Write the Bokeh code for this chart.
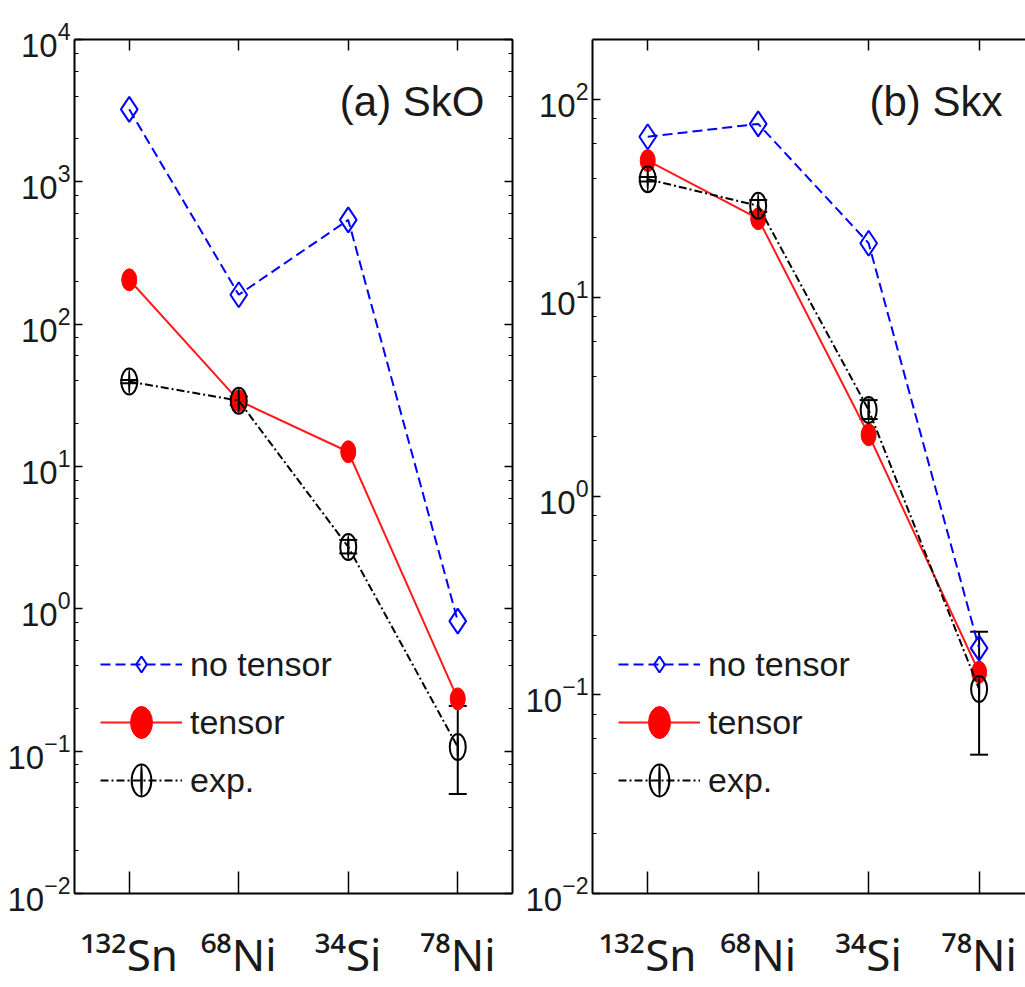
from bokeh.plotting import figure
from bokeh.layouts import row
from bokeh.models import (Range1d, LogAxis, LinearAxis, FixedTicker, LogTicker, Whisker, TeeHead,
                          ColumnDataSource, Legend, LegendItem, Label, CustomJSTickFormatter)
from bokeh.embed import file_html
from bokeh.resources import INLINE

# ---------------- data ----------------
x_pos = [1, 2, 3, 4]
nuclei_mass = ["132", "68", "34", "78"]
nuclei_elem = ["Sn", "Ni", "Si", "Ni"]

sko_no_tensor = [3230, 161, 540, 0.82]
sko_tensor = [205, 29, 12.7, 0.233]
skx_no_tensor = [64.6, 75, 18.8, 0.172]
skx_tensor = [49, 25, 2.04, 0.130]

exp_value = [39.5, 29.0, 2.72, 0.107]
exp_lower = [38.5, 27.0, 2.45, 0.050]
exp_upper = [40.5, 31.0, 3.05, 0.208]

panel_titles = ["(a) SkO", "(b) Skx"]
legend_labels = ["no tensor", "tensor", "exp."]

FONT = "'Liberation Sans Narrow', 'Liberation Sans', sans-serif"
XFONT = "'Noto Sans', 'DejaVu Sans', sans-serif"
TXT = "#1a1a1a"
H = 986
SUP = str.maketrans("0123456789", "⁰¹²³⁴⁵⁶⁷⁸⁹")
tick_names = {xi: m.translate(SUP) + e for xi, m, e in zip(x_pos, nuclei_mass, nuclei_elem)}


def style_axis(ax, tick_in, minor_in=0, labels=False, size="33px", font=FONT):
    ax.axis_line_color = "black"
    ax.axis_line_width = 2
    ax.major_tick_line_color = "black"
    ax.major_tick_line_width = 1.5
    ax.major_tick_in = tick_in
    ax.major_tick_out = 0
    ax.minor_tick_line_color = "black"
    ax.minor_tick_in = minor_in
    ax.minor_tick_out = 0
    ax.major_label_standoff = 4
    if labels:
        ax.major_label_text_font = font
        ax.major_label_text_font_size = size
        ax.major_label_text_color = TXT
    else:
        ax.formatter = CustomJSTickFormatter(code="return ''")
        ax.major_label_standoff = 0


def make_panel(no_tensor, tensor, title, y_end, width, b_left, b_top, b_right, x_end, right_axis):
    p = figure(width=width, height=H, x_range=Range1d(0.5, x_end), y_range=Range1d(1e-2, y_end),
               y_axis_type="log", output_backend="svg", toolbar_location=None,
               min_border_left=b_left, min_border_top=b_top, min_border_bottom=H - 895,
               min_border_right=b_right)
    p.outline_line_color = None
    p.grid.visible = False
    p.background_fill_color = "white"
    p.border_fill_color = "white"

    # axes
    p.xaxis.ticker = FixedTicker(ticks=x_pos)
    style_axis(p.xaxis[0], 22, labels=True, size="44px", font=XFONT)
    p.xaxis.major_label_overrides = tick_names
    p.xaxis.major_label_standoff = 30
    p.yaxis.ticker = LogTicker(desired_num_ticks=10)
    style_axis(p.yaxis[0], 8, 4, labels=True)
    top = LinearAxis(ticker=FixedTicker(ticks=x_pos))
    style_axis(top, 11)
    p.add_layout(top, "above")
    if right_axis:
        r = LogAxis(ticker=LogTicker(desired_num_ticks=10))
        style_axis(r, 8, 4)
        p.add_layout(r, "right")

    src_nt = ColumnDataSource(dict(x=x_pos, y=no_tensor))
    src_t = ColumnDataSource(dict(x=x_pos, y=tensor))
    src_e = ColumnDataSource(dict(x=x_pos, y=exp_value, lo=exp_lower, hi=exp_upper))

    l_nt = p.line("x", "y", source=src_nt, line_color="#0000ff", line_width=2, line_dash="10 5")
    m_nt = p.scatter("x", "y", source=src_nt, marker="diamond", size=25, line_color="#0000ff",
                     line_width=2, fill_color=None)
    l_t = p.line("x", "y", source=src_t, line_color="#ff1a1a", line_width=2)
    m_t = p.ellipse("x", "y", width=15, height=22, width_units="screen", height_units="screen",
                    source=src_t, fill_color="#ff0000", line_color="#ff0000", line_width=1)
    l_e = p.line("x", "y", source=src_e, line_color="black", line_width=2, line_dash="8 3 2 3")
    m_e = p.ellipse("x", "y", width=16, height=26, width_units="screen", height_units="screen",
                    source=src_e, fill_color=None, line_color="black", line_width=2)
    # error-bar stem inside each experimental circle (also the legend's bar symbol)
    stem = p.ellipse("x", "y", width=1, height=24, width_units="screen", height_units="screen",
                     source=src_e, fill_color="black", line_color="black", line_width=1.2)
    w = Whisker(source=src_e, base="x", lower="lo", upper="hi", dimension="height",
                line_color="black", line_width=2,
                lower_head=TeeHead(size=18, line_width=2, line_color="black"),
                upper_head=TeeHead(size=18, line_width=2, line_color="black"))
    p.add_layout(w)

    legend = Legend(items=[LegendItem(label=legend_labels[0], renderers=[l_nt, m_nt]),
                           LegendItem(label=legend_labels[1], renderers=[l_t, m_t]),
                           LegendItem(label=legend_labels[2], renderers=[l_e, m_e, stem])],
                    location=(26, 93), glyph_width=82, glyph_height=40, spacing=18,
                    label_standoff=8, label_text_font=FONT, label_text_font_size="34px",
                    label_text_color=TXT, border_line_color=None, background_fill_alpha=0,
                    padding=0, margin=0)
    p.add_layout(legend)

    p.add_layout(Label(x=410, y=769, x_units="screen", y_units="screen", text=title,
                       text_align="right", text_font=FONT, text_font_size="42px", text_color=TXT))
    return p


p1 = make_panel(sko_no_tensor, sko_tensor, panel_titles[0], 1e4, 520, 74, 39, 8, 4.5, True)
p2 = make_panel(skx_no_tensor, skx_tensor, panel_titles[1], 10 ** 2.3, 505, 72, 30, 0, 4.42, False)

layout = row(p1, p2)
open("out.html", "w").write(file_html(layout, INLINE))
